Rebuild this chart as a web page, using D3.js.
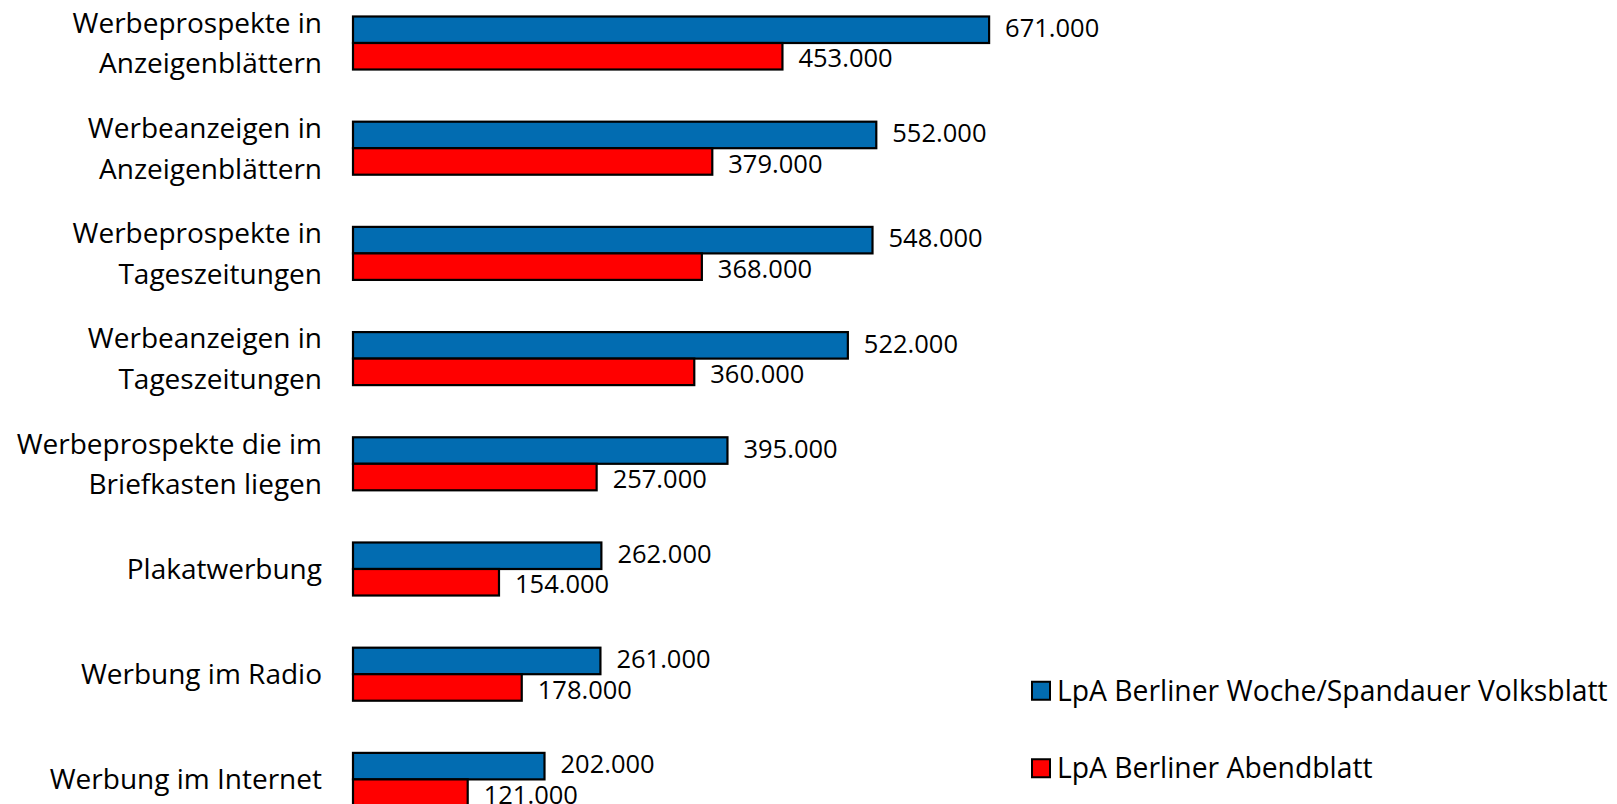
<!DOCTYPE html>
<html>
<head>
<meta charset="utf-8">
<script src="https://cdn.jsdelivr.net/npm/d3@7"></script>
<style>
  html, body { margin: 0; padding: 0; background: #ffffff; }
  svg { display: block; }
  text { font-family: "Open Sans", "Noto Sans", sans-serif; fill: #000; }
</style>
</head>
<body>
<svg id="chart" width="1617" height="804"></svg>
<script>
// Media categories (line breaks mark the wrapped axis labels)
const categories = [
  "Werbeprospekte in\nAnzeigenblättern",
  "Werbeanzeigen in\nAnzeigenblättern",
  "Werbeprospekte in\nTageszeitungen",
  "Werbeanzeigen in\nTageszeitungen",
  "Werbeprospekte die im\nBriefkasten liegen",
  "Plakatwerbung",
  "Werbung im Radio",
  "Werbung im Internet"
];

// Readers per issue (LpA) for each newspaper
const seriesNames = [
  "LpA Berliner Woche/Spandauer Volksblatt",
  "LpA Berliner Abendblatt"
];
const berlinerWoche = [671000, 552000, 548000, 522000, 395000, 262000, 261000, 202000];
const berlinerAbendblatt = [453000, 379000, 368000, 360000, 257000, 154000, 178000, 121000];
const seriesColors = ["#026cb1", "#ff0000"];

const seriesValues = [berlinerWoche, berlinerAbendblatt];

const svg = d3.select("#chart");
const fontSize = 28;
const legendFontSize = 28.3;
const valueFontSize = 25.5;

// German number format: 671.000
const de = d3.formatLocale({ decimal: ",", thousands: ".", grouping: [3], currency: ["", " €"] });
const fmt = de.format(",d");

const x = d3.scaleLinear().domain([0, 800000]).range([353, 1111.4]);

const y = d3.scaleBand()
  .domain(categories)
  .range([-9.6, 832])
  .paddingInner(0.496)
  .paddingOuter(0.248);

const ySeries = d3.scaleBand()
  .domain(d3.range(seriesNames.length))
  .range([0, y.bandwidth()]);

const rows = categories.map((c, i) => ({
  category: c,
  values: seriesValues.map((s, k) => ({ k, value: s[i] }))
}));

// Bars
const groups = svg.append("g").selectAll("g.cat")
  .data(rows)
  .join("g")
  .attr("class", "cat")
  .attr("transform", d => `translate(0,${y(d.category)})`);

groups.selectAll("rect")
  .data(d => d.values)
  .join("rect")
  .attr("x", x(0))
  .attr("y", d => ySeries(d.k))
  .attr("width", d => x(d.value) - x(0))
  .attr("height", ySeries.bandwidth())
  .attr("fill", d => seriesColors[d.k])
  .attr("stroke", "#000")
  .attr("stroke-width", 2.2);

// Value labels to the right of each bar
const labelShift = [-2, 2];
groups.selectAll("text.value")
  .data(d => d.values)
  .join("text")
  .attr("class", "value")
  .attr("x", d => x(d.value) + 16)
  .attr("y", d => ySeries(d.k) + ySeries.bandwidth() / 2 + labelShift[d.k])
  .attr("dy", "0.36em")
  .attr("font-size", valueFontSize)
  .text(d => fmt(d.value));

// Category axis labels (right aligned, wrapped)
const lineGap = 40.5;
const catLabels = svg.append("g").selectAll("text.cat")
  .data(categories)
  .join("text")
  .attr("class", "cat")
  .attr("text-anchor", "end")
  .attr("font-size", fontSize)
  .attr("y", d => y(d) + y.bandwidth() / 2);

catLabels.each(function(d) {
  const lines = d.split("\n");
  const t = d3.select(this);
  const cy = +t.attr("y");
  lines.forEach((ln, i) => {
    t.append("tspan")
      .attr("x", 322)
      .attr("y", cy + (i - (lines.length - 1) / 2) * lineGap)
      .attr("dy", "0.36em")
      .text(ln);
  });
});

// Legend
const legendY = d3.scaleBand().domain(d3.range(seriesNames.length)).range([652, 807]);
const legend = svg.append("g").selectAll("g.legend")
  .data(seriesNames)
  .join("g")
  .attr("class", "legend")
  .attr("transform", (d, i) => `translate(1032,${legendY(i) + legendY.bandwidth() / 2})`);

legend.append("rect")
  .attr("x", 0)
  .attr("y", -9)
  .attr("width", 18)
  .attr("height", 18)
  .attr("fill", (d, i) => seriesColors[i])
  .attr("stroke", "#000")
  .attr("stroke-width", 2);

legend.append("text")
  .attr("x", 25)
  .attr("y", 0)
  .attr("dy", "0.36em")
  .attr("font-size", legendFontSize)
  .text(d => d);
</script>
</body>
</html>
